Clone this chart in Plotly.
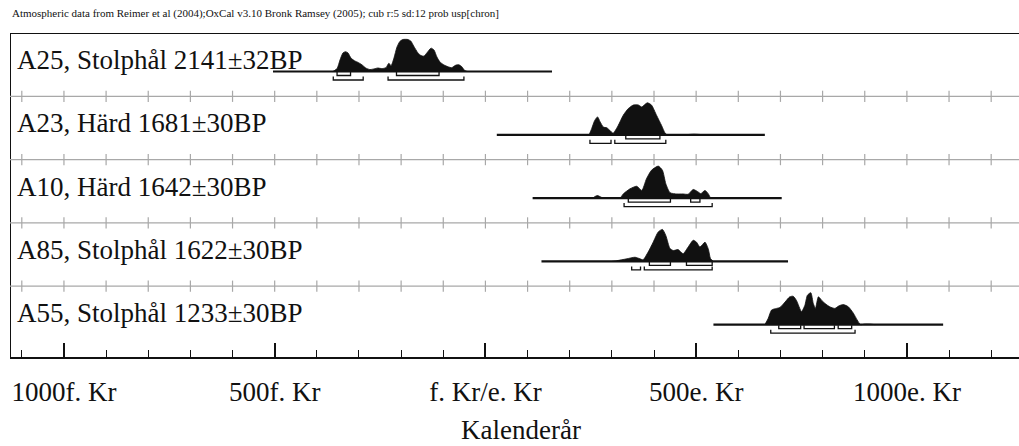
import plotly.graph_objects as go

HEADER = ("Atmospheric data from Reimer et al (2004);OxCal v3.10 Bronk Ramsey (2005); "
          "cub r:5 sd:12 prob usp[chron]")
X_TITLE = "Kalenderår"

labels = ["A25, Stolphål 2141±32BP",
          "A23, Härd 1681±30BP",
          "A10, Härd 1642±30BP",
          "A85, Stolphål 1622±30BP",
          "A55, Stolphål 1233±30BP"]

# calibrated probability distributions (year AD, negative = BC; relative probability)
a25_years = [-362, -352, -345, -338, -332, -326, -319, -310, -303, -293, -284, -274, -265, -255,
             -246, -236, -229, -224, -217, -210, -203, -196, -184, -177, -170, -160, -153, -146,
             -139, -129, -122, -115, -108, -99, -89, -80, -70, -63, -56, -49, -42]
a25_prob = [0, 0.09, 0.36, 0.58, 0.62, 0.58, 0.42, 0.33, 0.29, 0.21, 0.11, 0.06, 0.08, 0.11,
            0.09, 0.12, 0.26, 0.18, 0.42, 0.76, 0.94, 1.0, 1.0, 0.95, 0.79, 0.58, 0.5, 0.48,
            0.58, 0.73, 0.67, 0.45, 0.3, 0.21, 0.15, 0.12, 0.2, 0.21, 0.15, 0.03, 0]

a23_years = [246, 252, 259, 266, 272, 280, 288, 295, 303, 315, 327, 339, 351, 363, 371, 384,
             394, 406, 418, 426, 431, 470, 495, 520]
a23_prob = [0, 0.19, 0.44, 0.56, 0.41, 0.24, 0.22, 0.14, 0.05, 0.29, 0.61, 0.82, 0.93, 0.93,
            0.87, 1.0, 0.93, 0.61, 0.29, 0.06, 0, 0, 0.02, 0]

a10_years = [255, 260, 266, 276, 285, 319, 327, 343, 359, 371, 382, 394, 410, 420, 428, 438,
             454, 469, 481, 493, 505, 511, 521, 529, 534]
a10_prob = [0, 0.05, 0.08, 0.02, 0, 0, 0.13, 0.29, 0.37, 0.24, 0.6, 0.87, 1.0, 0.87, 0.45,
            0.17, 0.13, 0.13, 0.12, 0.27, 0.19, 0.14, 0.24, 0.13, 0]

a85_years = [300, 311, 335, 355, 367, 374, 386, 398, 410, 420, 428, 438, 446, 457, 469, 481,
             493, 501, 509, 521, 529, 534, 541]
a85_prob = [0, 0.02, 0.08, 0.13, 0.08, 0.05, 0.29, 0.6, 0.92, 1.0, 0.81, 0.4, 0.34, 0.37,
            0.24, 0.45, 0.66, 0.6, 0.45, 0.6, 0.38, 0.09, 0]

a55_years = [663, 671, 679, 691, 699, 711, 722, 730, 738, 750, 758, 764, 772, 778, 783, 790,
             798, 806, 817, 829, 839, 849, 861, 873, 882, 890, 900, 912, 925]
a55_prob = [0, 0.2, 0.46, 0.51, 0.54, 0.71, 0.87, 0.89, 0.76, 0.41, 0.61, 0.92, 1.0, 0.66,
            0.51, 0.87, 0.76, 0.66, 0.56, 0.51, 0.59, 0.63, 0.56, 0.36, 0.15, 0, 0.02, 0.02, 0]

# plotted calendar range of each sample (baseline)
ranges = [(-504, 158), (27, 663), (112, 703), (133, 718), (541, 1086)]

# 68.2% and 95.4% ranges
r68 = [[(-352, -320), (-211, -110)],
       [(333, 414)],
       [(339, 439), (487, 509)],
       [(389, 439), (477, 538)],
       [(696, 748), (756, 828), (837, 869)]]
r95 = [[(-361, -290), (-231, -51)],
       [(248, 298), (307, 428)],
       [(329, 538)],
       [(347, 368), (377, 538)],
       [(677, 877)]]

dists = [(a25_years, a25_prob), (a23_years, a23_prob), (a10_years, a10_prob),
         (a85_years, a85_prob), (a55_years, a55_prob)]

tick_vals = [-1000, -500, 0, 500, 1000]
tick_text = ["1000f. Kr", "500f. Kr", "f. Kr/e. Kr", "500e. Kr", "1000e. Kr"]

# ---- layout geometry ----
W, H = 1019, 446
ML, MR, MT, MB = 10, 0, 33, 89
PH = H - MT - MB
X0, X1 = -1128, 1266
ROW_H = 63.3
BASE_OFF = 38.5
PEAK = 32
SERIF = "Liberation Serif, Times New Roman, serif"
INK = "#111111"
GREY = "#a8a8a8"

fig = go.Figure()

# black frame: top and left border
fig.add_trace(go.Scatter(x=[X1, X0, X0], y=[PH, PH, 0], mode="lines",
                         line=dict(color=INK, width=2), hoverinfo="skip", cliponaxis=False))

# grey row separators with small cross ticks
sep_ticks = list(range(-1100, 1300, 100))
for i in range(1, 5):
    ys = PH - ROW_H * i
    fig.add_trace(go.Scatter(x=[X0, X1], y=[ys, ys], mode="lines",
                             line=dict(color=GREY, width=1.2), hoverinfo="skip"))
    fig.add_trace(go.Scatter(x=sep_ticks, y=[ys] * len(sep_ticks), mode="markers",
                             marker=dict(symbol="line-ns", size=8,
                                         line=dict(color=GREY, width=1.2)),
                             hoverinfo="skip"))

for i, ((yrs, pr), (ra, rb)) in enumerate(zip(dists, ranges)):
    base = PH - (ROW_H * i + BASE_OFF)
    # distribution
    fig.add_trace(go.Scatter(x=[yrs[0]] + yrs + [yrs[-1]],
                             y=[base] + [base + p * PEAK for p in pr] + [base],
                             mode="lines", fill="toself", fillcolor=INK,
                             line=dict(color=INK, width=0.8, shape="spline", smoothing=0.6),
                             hoverinfo="skip"))
    # baseline
    fig.add_trace(go.Scatter(x=[ra, rb], y=[base, base], mode="lines",
                             line=dict(color=INK, width=2.2), hoverinfo="skip"))
    # brackets
    bx, by = [], []
    for (a, b) in r68[i]:
        bx += [a, a, b, b, None]
        by += [base - 0.5, base - 4, base - 4, base - 0.5, None]
    for (a, b) in r95[i]:
        bx += [a, a, b, b, None]
        by += [base - 5, base - 8.5, base - 8.5, base - 5, None]
    fig.add_trace(go.Scatter(x=bx, y=by, mode="lines",
                             line=dict(color=INK, width=1.3), hoverinfo="skip"))

annotations = []
for i, lab in enumerate(labels):
    annotations.append(dict(text=lab, xref="paper", yref="y", x=5 / (W - ML - MR),
                            y=PH - (ROW_H * i + 27), xanchor="left", yanchor="middle",
                            showarrow=False, font=dict(family=SERIF, size=27, color=INK)))
annotations.append(dict(text=HEADER, xref="paper", yref="paper", x=0,
                        y=(PH + MT - 14) / PH, xanchor="left", yanchor="middle",
                        showarrow=False, font=dict(family=SERIF, size=11, color=INK)))
annotations.append(dict(text=X_TITLE, xref="paper", yref="paper",
                        x=(521 - ML) / (W - ML - MR), y=-(430 - MT - PH) / PH,
                        xanchor="center", yanchor="middle", showarrow=False,
                        font=dict(family=SERIF, size=27, color=INK)))

fig.update_layout(
    width=W, height=H, margin=dict(l=ML, r=MR, t=MT, b=MB),
    paper_bgcolor="white", plot_bgcolor="white", showlegend=False,
    annotations=annotations,
    xaxis=dict(range=[X0, X1], tickmode="array", tickvals=tick_vals, ticktext=tick_text,
               ticks="inside", ticklen=14, tickwidth=1.5, tickcolor=INK,
               minor=dict(tick0=0, dtick=100, ticks="inside", ticklen=7, tickwidth=1.2,
                          tickcolor=INK, showgrid=False),
               showline=True, linecolor=INK, linewidth=1.5, mirror=False,
               showgrid=False, zeroline=False, ticklabelstandoff=10,
               tickfont=dict(family=SERIF, size=27, color=INK)),
    yaxis=dict(range=[0, PH], showline=False, visible=False,
               showgrid=False, zeroline=False, showticklabels=False, ticks=""),
)

fig.write_html("out.html", config={"displayModeBar": False},
               post_script="document.body.style.margin='0';"
                           "document.body.style.overflow='hidden';")
